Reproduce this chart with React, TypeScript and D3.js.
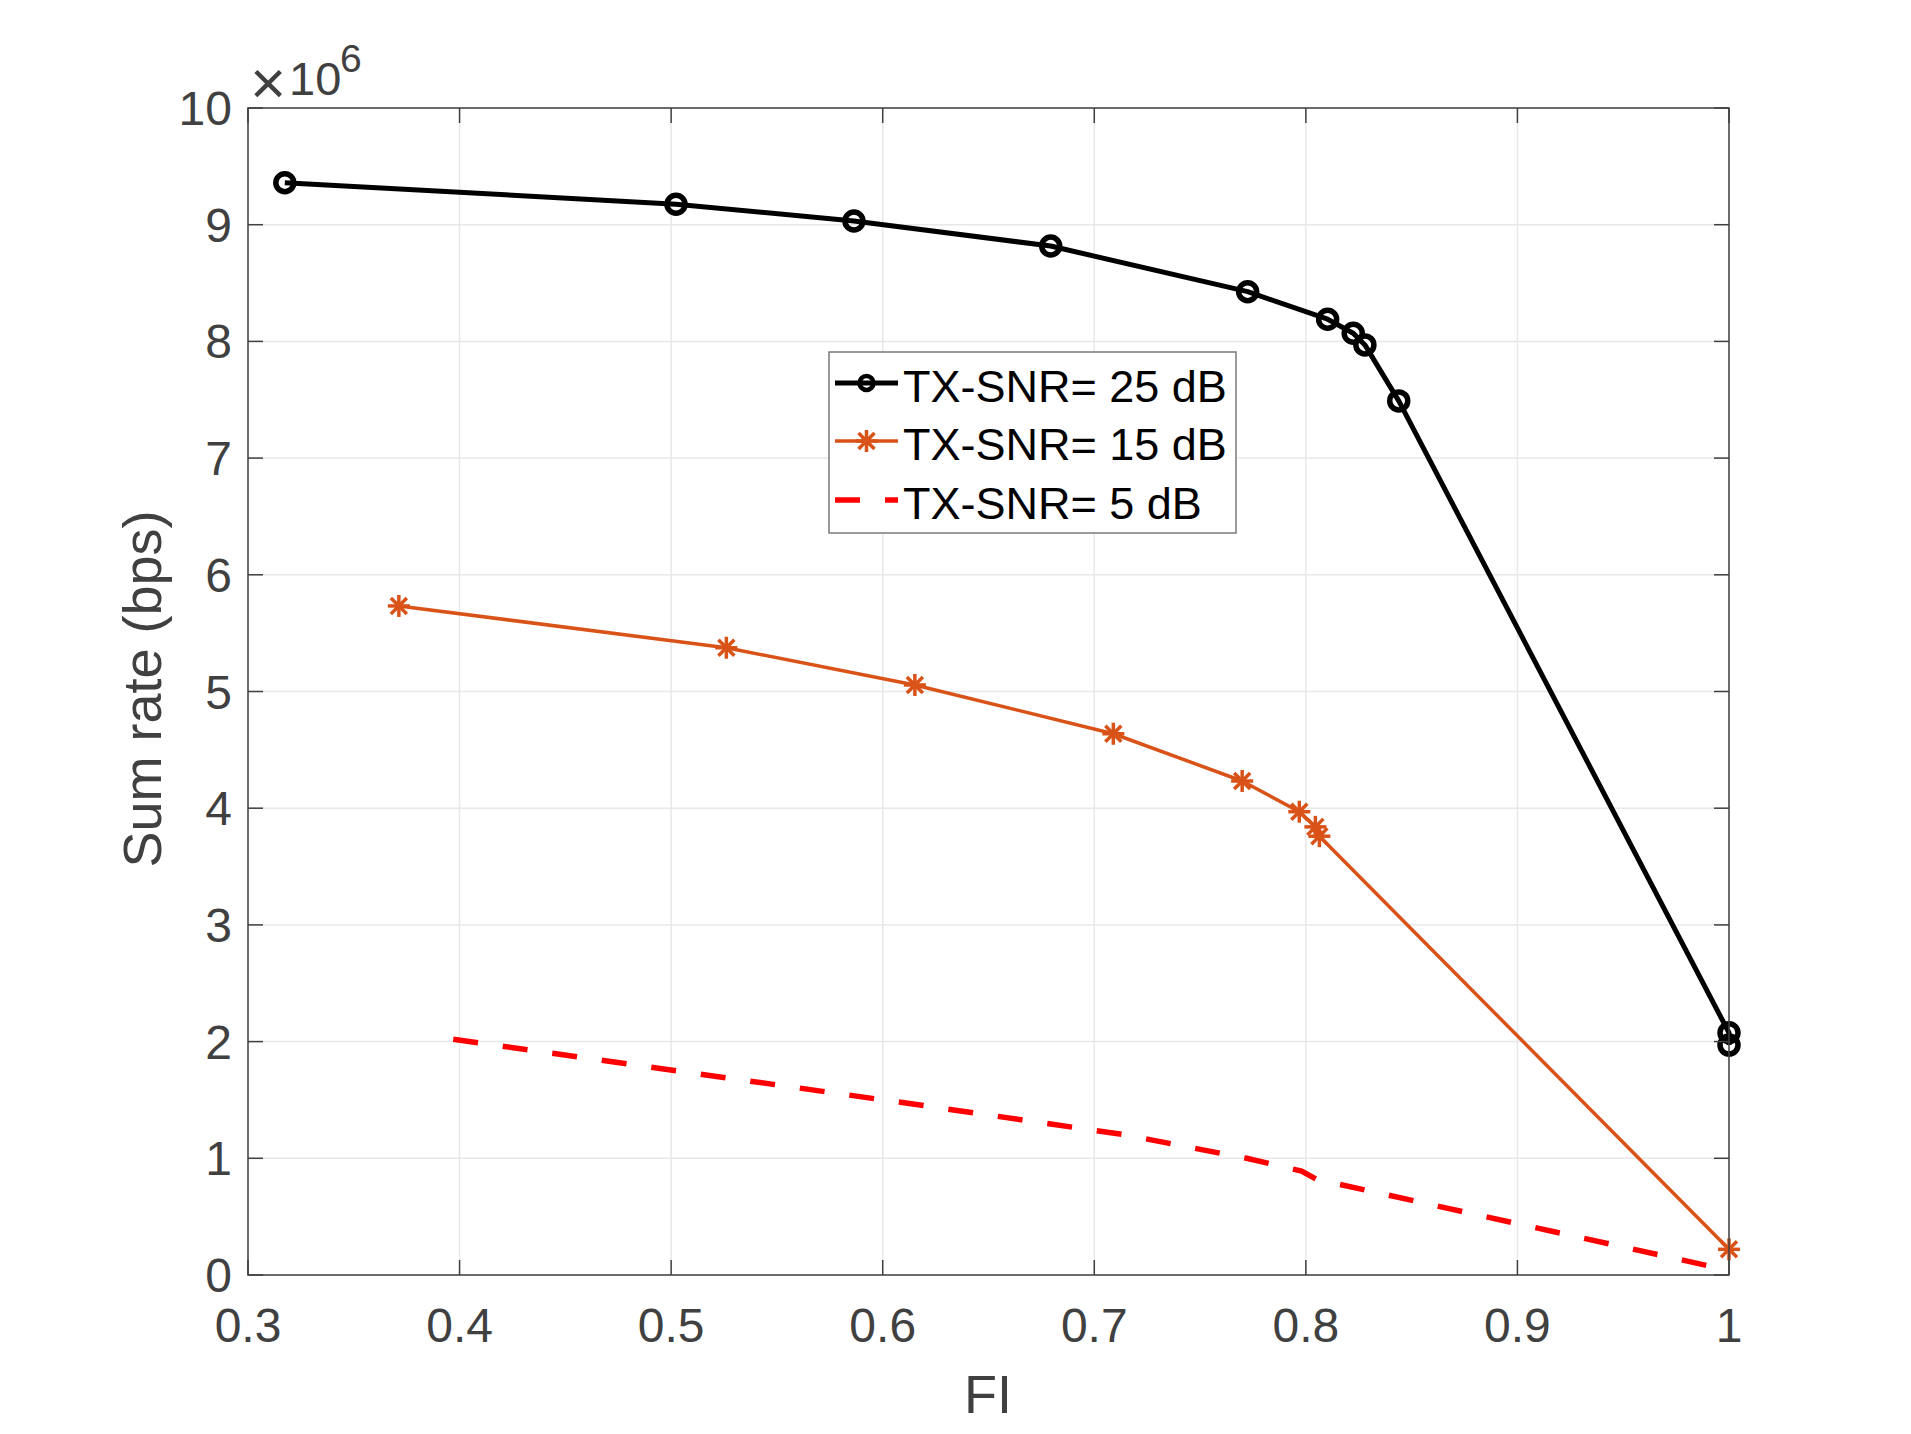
import React from 'react';
import * as d3 from 'd3';

// FI vs. sum rate (in units of 1e6 bps) for three transmit SNRs
const fi25 = [0.3174, 0.5023, 0.5864, 0.6794, 0.7725, 0.8103, 0.8224, 0.8279, 0.8439, 1.0, 1.0];
const rate25 = [9.36, 9.175, 9.032, 8.817, 8.426, 8.19, 8.07, 7.97, 7.49, 2.076, 1.97];

const fi15 = [0.3713, 0.5261, 0.6152, 0.709, 0.7699, 0.7969, 0.8045, 0.8064, 1.0];
const rate15 = [5.733, 5.375, 5.056, 4.638, 4.233, 3.97, 3.84, 3.76, 0.22];

const fi5 = [0.397, 0.53, 0.62, 0.715, 0.772, 0.798, 0.805, 1.0];
const rate5 = [2.02, 1.68, 1.45, 1.2, 1.0, 0.89, 0.82, 0.04];

const xTicks = [0.3, 0.4, 0.5, 0.6, 0.7, 0.8, 0.9, 1];
const yTicks = [0, 1, 2, 3, 4, 5, 6, 7, 8, 9, 10];

const legendLabels = ['TX-SNR= 25 dB', 'TX-SNR= 15 dB', 'TX-SNR= 5 dB'];

const W = 1911;
const H = 1434;
const left = 248;
const right = 1729;
const top = 108;
const bottom = 1275;

const axisColor = '#404040';
const gridColor = '#e8e8e8';
const orange = '#D95319';
const font = '"Liberation Sans", Arial, Helvetica, sans-serif';

const x = d3.scaleLinear().domain([0.3, 1]).range([left, right]);
const y = d3.scaleLinear().domain([0, 10]).range([bottom, top]);

const toPts = (xs: number[], ys: number[]) => xs.map((v, i) => [v, ys[i]] as [number, number]);
const line = d3.line<[number, number]>().x(d => x(d[0])).y(d => y(d[1]));

const Asterisk = ({ cx, cy }: { cx: number; cy: number }) => {
  const a = 11;
  const b = 8;
  return (
    <g stroke={orange} strokeWidth={3.5} strokeLinecap="butt">
      <line x1={cx - a} y1={cy} x2={cx + a} y2={cy} />
      <line x1={cx} y1={cy - a} x2={cx} y2={cy + a} />
      <line x1={cx - b} y1={cy - b} x2={cx + b} y2={cy + b} />
      <line x1={cx - b} y1={cy + b} x2={cx + b} y2={cy - b} />
    </g>
  );
};

export default function App() {
  const p25 = toPts(fi25, rate25);
  const p15 = toPts(fi15, rate15);
  const p5 = toPts(fi5, rate5);
  const tickLen = 15;

  const lx0 = 835;
  const lx1 = 898;
  const rows = [383, 441, 500];

  return (
    <svg width={W} height={H} style={{ position: 'absolute', left: 0, top: 0, background: '#fff' }} fontFamily={font}>
      <rect x={0} y={0} width={W} height={H} fill="#fff" />
      {/* grid */}
      {xTicks.map(t => (
        <line key={'gx' + t} x1={x(t)} x2={x(t)} y1={top} y2={bottom} stroke={gridColor} strokeWidth={1.5} />
      ))}
      {yTicks.map(t => (
        <line key={'gy' + t} x1={left} x2={right} y1={y(t)} y2={y(t)} stroke={gridColor} strokeWidth={1.5} />
      ))}

      {/* series */}
      <path d={line(p5) || ''} fill="none" stroke="#ff0000" strokeWidth={5.5} strokeDasharray="25 25" />
      <path d={line(p15) || ''} fill="none" stroke={orange} strokeWidth={3.5} strokeLinejoin="round" />
      {p15.map((d, i) => (
        <Asterisk key={'s' + i} cx={x(d[0])} cy={y(d[1])} />
      ))}
      <path d={line(p25) || ''} fill="none" stroke="#000" strokeWidth={5} strokeLinejoin="round" />
      {p25.map((d, i) => (
        <circle key={'c' + i} cx={x(d[0])} cy={y(d[1])} r={9} fill="none" stroke="#000" strokeWidth={5.5} />
      ))}

      {/* axes box and ticks */}
      <rect x={left} y={top} width={right - left} height={bottom - top} fill="none" stroke={axisColor} strokeWidth={1.5} />
      {xTicks.map(t => (
        <g key={'tx' + t} stroke={axisColor} strokeWidth={1.5}>
          <line x1={x(t)} x2={x(t)} y1={bottom} y2={bottom - tickLen} />
          <line x1={x(t)} x2={x(t)} y1={top} y2={top + tickLen} />
        </g>
      ))}
      {yTicks.map(t => (
        <g key={'ty' + t} stroke={axisColor} strokeWidth={1.5}>
          <line x1={left} x2={left + tickLen} y1={y(t)} y2={y(t)} />
          <line x1={right} x2={right - tickLen} y1={y(t)} y2={y(t)} />
        </g>
      ))}

      {/* tick labels */}
      {xTicks.map(t => (
        <text key={'lx' + t} x={x(t)} y={1342} textAnchor="middle" fontSize={48} fill={axisColor}>
          {String(t)}
        </text>
      ))}
      {yTicks.map(t => (
        <text key={'ly' + t} x={232} y={y(t) + 17} textAnchor="end" fontSize={48} fill={axisColor}>
          {String(t)}
        </text>
      ))}

      {/* exponent */}
      <text x={250} y={104} fontSize={62} fill={axisColor}>×</text>
      <text x={289} y={95} fontSize={47} fill={axisColor}>10</text>
      <text x={340} y={72} fontSize={39} fill={axisColor}>6</text>

      {/* axis labels */}
      <text x={988} y={1413} textAnchor="middle" fontSize={54} fill={axisColor}>FI</text>
      <text transform="translate(161,689) rotate(-90)" textAnchor="middle" fontSize={54} fill={axisColor}>
        Sum rate (bps)
      </text>

      {/* legend */}
      <rect x={829} y={352} width={407} height={181} fill="#fff" stroke="#7a7a7a" strokeWidth={1.5} />
      <line x1={lx0} x2={lx1} y1={rows[0]} y2={rows[0]} stroke="#000" strokeWidth={5} />
      <circle cx={(lx0 + lx1) / 2} cy={rows[0]} r={7} fill="none" stroke="#000" strokeWidth={4.5} />
      <line x1={lx0} x2={lx1} y1={rows[1]} y2={rows[1]} stroke={orange} strokeWidth={3.5} />
      <Asterisk cx={(lx0 + lx1) / 2} cy={rows[1]} />
      <line x1={lx0} x2={lx1} y1={rows[2]} y2={rows[2]} stroke="#ff0000" strokeWidth={5.5} strokeDasharray="25 25" />
      {legendLabels.map((s, i) => (
        <text key={s} x={903} y={rows[i] + 19} fontSize={45} fill="#000">
          {s}
        </text>
      ))}
    </svg>
  );
}
